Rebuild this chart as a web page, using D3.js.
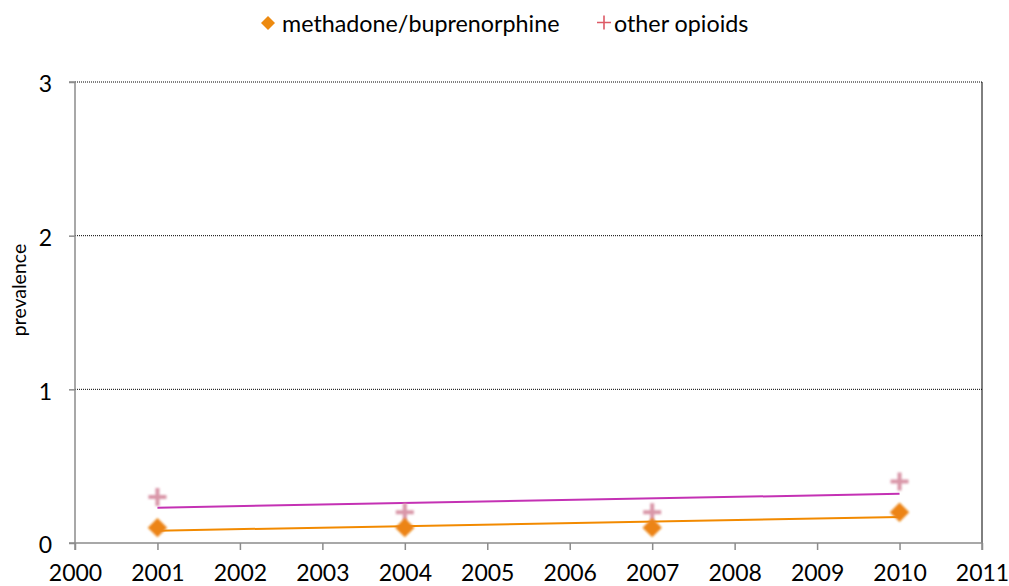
<!DOCTYPE html>
<html><head><meta charset="utf-8">
<script src="https://cdn.jsdelivr.net/npm/d3@7"></script>
<style>body{margin:0;background:#fff}svg{display:block}text{font-family:Lato,"Open Sans",sans-serif;fill:#000}</style>
</head><body><svg id="c" width="1009" height="586"></svg>
<script>
const years = [2001, 2004, 2007, 2010];
const methadone = [0.1, 0.1, 0.1, 0.2];
const otherOpioids = [0.3, 0.2, 0.2, 0.4];
const xTicks = d3.range(2000, 2012);
const yTicks = [0, 1, 2, 3];
const seriesNames = ["methadone/buprenorphine", "other opioids"];

const svg = d3.select("#c");
const L = 75, R = 982, T = 82, B = 543;
const x = d3.scaleLinear().domain([2000, 2011]).range([L, R]);
const y = d3.scaleLinear().domain([0, 3]).range([B, T]);

const defs = svg.append("defs");
defs.append("filter").attr("id","blur").append("feGaussianBlur").attr("stdDeviation",0.8);

// gridlines
svg.append("g").selectAll("line").data(yTicks.filter(d=>d>0)).join("line")
  .attr("x1",L).attr("x2",R).attr("y1",d=>y(d)).attr("y2",d=>y(d))
  .attr("stroke","#000").attr("stroke-width",1).attr("stroke-dasharray","1,1");
// right border
svg.append("line").attr("x1",R).attr("x2",R).attr("y1",T).attr("y2",B).attr("stroke","#000");

// axes
const yAxis = svg.append("g").attr("transform",`translate(${L},0)`)
  .call(d3.axisLeft(y).tickValues(yTicks).tickFormat(d3.format("d")).tickSize(6));
const xAxis = svg.append("g").attr("transform",`translate(0,${B})`)
  .call(d3.axisBottom(x).tickValues(xTicks).tickFormat(d3.format("d")).tickSize(7));
[yAxis,xAxis].forEach(a=>{
  a.select(".domain").attr("stroke","#8c8c8c").attr("stroke-width",1.5);
  a.selectAll(".tick line").attr("stroke","#8c8c8c").attr("stroke-width",1.5);
  a.selectAll("text").attr("font-size",23).attr("fill","#000").style("font-family",'Lato,"Open Sans",sans-serif');
});
yAxis.selectAll("text").attr("x",-23).attr("dy","0.42em");
xAxis.selectAll("text").attr("y",37.5).attr("dy",0);
xAxis.select(".domain").attr("d",`M${L},7V0H${R}V7`);
yAxis.select(".domain").attr("d",`M-6,${T}H0V${B}H-6`);

// y label
svg.append("text").attr("transform",`translate(26,290) rotate(-90)`)
  .attr("text-anchor","middle").attr("font-size",19.5).text("prevalence");

// trend lines (least squares)
function fit(xs, ys){
  const mx=d3.mean(xs), my=d3.mean(ys);
  const s=d3.sum(xs,(v,i)=>(v-mx)*(ys[i]-my))/d3.sum(xs,v=>(v-mx)**2);
  return [ [xs[0], my+s*(xs[0]-mx)], [xs[xs.length-1], my+s*(xs[xs.length-1]-mx)] ];
}
const line = d3.line().x(d=>x(d[0])).y(d=>y(d[1]));
svg.append("path").attr("d",line(fit(years,otherOpioids))).attr("stroke","#c431b4").attr("stroke-width",2).attr("fill","none");
svg.append("path").attr("d",line(fit(years,methadone))).attr("stroke","#f28a00").attr("stroke-width",2).attr("fill","none");

// markers
const diamond = d3.symbol().type(d3.symbolDiamond2).size(240);
const plusPath = "M-9,-2H-2V-9H2V-2H9V2H2V9H-2V2H-9Z";
svg.append("g").selectAll("path").data(years).join("path")
  .attr("transform",(d,i)=>`translate(${x(d)},${y(otherOpioids[i])})`)
  .attr("d",plusPath).attr("fill","#d996a8").attr("filter","url(#blur)");
svg.append("g").selectAll("path").data(years).join("path")
  .attr("transform",(d,i)=>`translate(${x(d)},${y(methadone[i])})`)
  .attr("d",diamond).attr("fill","#ec8417").attr("filter","url(#blur)");

// legend
const lg = svg.append("g");
lg.append("path").attr("transform","translate(268,23)").attr("d",d3.symbol().type(d3.symbolDiamond2).size(125)).attr("fill","#ed8a10");
lg.append("text").attr("x",282).attr("y",32).attr("font-size",23.3).text(seriesNames[0]);
lg.append("path").attr("transform","translate(604,22.5)").attr("d","M-7,-0.8H-0.8V-7H0.8V-0.8H7V0.8H0.8V7H-0.8V0.8H-7Z").attr("fill","#dd5a66");
lg.append("text").attr("x",614).attr("y",32).attr("font-size",23.3).text(seriesNames[1]);
</script></body></html>
